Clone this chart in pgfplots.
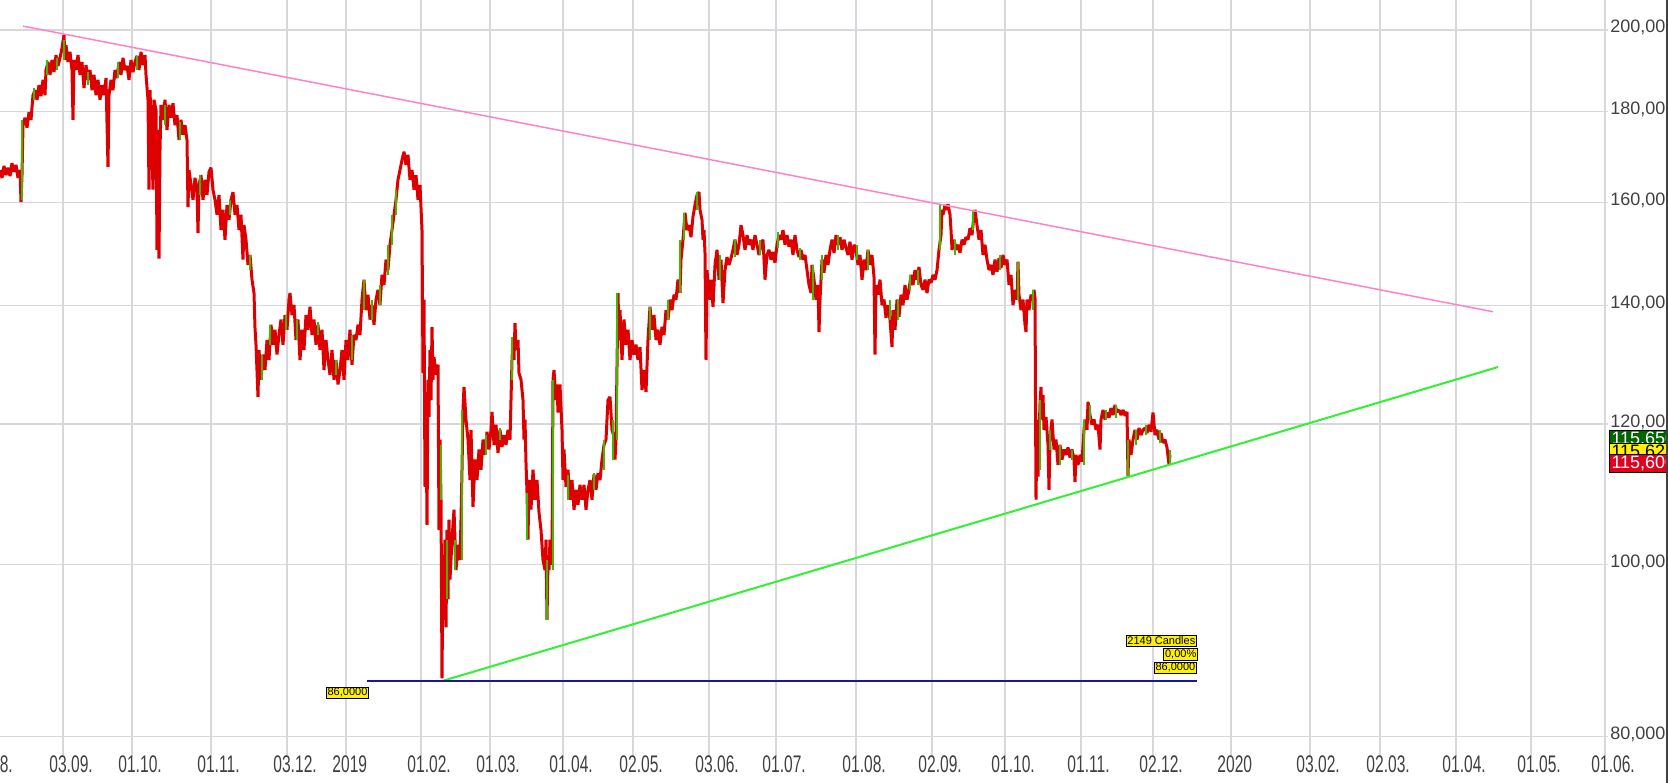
\documentclass[border=0pt]{standalone}
\usepackage{pgfplots}
\pgfplotsset{compat=1.18}
\usepackage{fontspec}
\setmainfont{Liberation Sans}
\newfontfamily\narrowfont{Liberation Sans}[FakeStretch=0.65]
\definecolor{gridc}{RGB}{216,216,220}
\definecolor{txt}{RGB}{64,64,64}
\definecolor{cred}{RGB}{222,0,0}
\definecolor{cgreen}{RGB}{60,185,0}
\definecolor{pinkl}{RGB}{255,130,200}
\definecolor{greenl}{RGB}{50,240,50}
\definecolor{bluel}{RGB}{25,25,150}
\definecolor{boxgreen}{RGB}{0,100,0}
\definecolor{boxred}{RGB}{225,0,30}
\begin{document}
\begin{tikzpicture}
\begin{axis}[
  at={(0,13bp)}, anchor=south west,
  scale only axis, width=804bp, height=378.5bp,
  xmin=0, xmax=1608,
  ymode=log, ymin=77.953, ymax=207.928,
  axis line style={draw=none},
  major tick length=0pt,
  grid=major, grid style={gridc, line width=0.55bp},
  xtick={63,132,211,287,346,421,490,563,633,709,776,856,932,1005,1081,1153,1231,1310,1380,1456,1531,1605},
  xticklabels={03.09.,01.10.,01.11.,03.12.,2019,01.02.,01.03.,01.04.,02.05.,03.06.,01.07.,01.08.,02.09.,01.10.,01.11.,02.12.,2020,03.02.,02.03.,01.04.,01.05.,01.06.},
  xticklabel style={font=\narrowfont\fontsize{12bp}{12bp}\selectfont, text=txt, anchor=north west, inner sep=0pt, xshift=-7bp, yshift=1bp},
  ytick={80,100,120,140,160,180,200},
  yticklabels={{80,000},{100,000},{120,000},{140,000},{160,000},{180,000},{200,000}},
  yticklabel pos=right,
  yticklabel style={font=\fontsize{9bp}{9bp}\selectfont, text=txt, anchor=base west, inner sep=0pt, xshift=1bp, yshift=-1.5bp},
  clip=false,
]
\addplot[cred, line width=1.5bp, line join=bevel] table[row sep=\\] {
x y\\
0 166.8\\ 2 165.1\\ 4 167.7\\ 6 165.7\\ 8 167.3\\ 10 165.5\\ 12 168.3\\ 14 166.4\\ 16 167.9\\ 18 165.1\\ 20 166.8\\ 21 160.0\\ 22 165.7\\ 23 176.8\\ 25 178.5\\ 27 176.2\\ 29 179.8\\ 31 178.0\\ 33 183.8\\ 35 185.0\\ 37 182.7\\ 39 186.2\\ 41 183.6\\ 43 187.5\\ 45 183.8\\ 46 189.9\\ 48 191.9\\ 50 188.7\\ 52 192.4\\ 54 189.4\\ 56 193.6\\ 58 190.9\\ 60 192.9\\ 62 195.4\\ 64 198.7\\ 65 192.4\\ 66 196.1\\ 68 191.9\\ 70 194.4\\ 72 189.9\\ 73 178.0\\ 74 192.4\\ 76 189.9\\ 78 193.6\\ 80 188.7\\ 82 191.9\\ 84 185.5\\ 86 191.1\\ 88 187.5\\ 90 189.9\\ 92 185.0\\ 94 188.7\\ 96 183.8\\ 98 187.5\\ 100 182.7\\ 102 186.2\\ 104 183.8\\ 106 187.9\\ 108 167.5\\ 109 183.8\\ 111 187.5\\ 113 185.0\\ 115 189.9\\ 117 187.9\\ 119 191.9\\ 121 188.7\\ 123 192.9\\ 125 189.9\\ 127 190.9\\ 129 187.5\\ 131 192.4\\ 133 189.4\\ 135 191.9\\ 137 193.4\\ 139 189.9\\ 141 194.4\\ 143 191.1\\ 145 193.6\\ 146 188.7\\ 148 182.7\\ 149 162.6\\ 150 185.0\\ 152 171.2\\ 153 162.6\\ 154 182.7\\ 156 180.3\\ 157 150.4\\ 158 175.7\\ 159 148.7\\ 160 171.2\\
161 181.5\\ 163 178.0\\ 165 182.7\\ 167 175.7\\ 169 181.5\\ 171 178.5\\ 173 181.9\\ 175 176.8\\ 177 179.1\\ 179 173.4\\ 181 178.0\\ 183 174.6\\ 185 176.8\\ 187 173.4\\ 188 159.0\\ 189 166.8\\ 191 163.6\\ 193 160.5\\ 195 165.1\\ 197 162.6\\ 198 153.7\\ 199 163.6\\ 201 165.7\\ 203 160.5\\ 205 164.7\\ 207 161.5\\ 209 166.4\\ 211 167.3\\ 213 162.6\\ 215 160.5\\ 217 157.4\\ 219 161.5\\ 221 154.3\\ 223 158.4\\ 225 152.4\\ 227 159.4\\ 229 156.4\\ 231 160.5\\ 233 162.1\\ 235 157.4\\ 237 159.4\\ 239 154.3\\ 241 157.4\\ 243 148.5\\ 244 155.3\\ 246 152.4\\ 248 147.5\\ 250 149.4\\ 252 144.7\\ 254 142.2\\ 255 135.9\\ 256 133.0\\ 258 124.3\\ 259 132.1\\ 261 127.1\\ 263 131.3\\ 265 128.7\\ 267 133.8\\ 269 130.4\\ 271 136.5\\ 273 133.0\\ 275 135.6\\ 277 131.3\\ 279 134.7\\ 281 137.4\\ 283 133.0\\ 285 138.2\\ 287 135.6\\ 289 141.0\\ 290 142.2\\ 292 138.2\\ 294 140.0\\ 296 133.8\\ 298 137.4\\ 300 130.4\\ 302 135.6\\ 304 132.1\\ 306 138.2\\ 308 135.6\\ 310 139.7\\ 312 134.7\\ 314 137.4\\ 316 133.0\\ 318 136.5\\ 320 132.1\\ 322 135.6\\ 324 128.7\\ 326 133.8\\ 328 130.4\\ 330 127.9\\ 332 132.1\\ 334 127.1\\ 336 130.4\\ 338 126.3\\ 340 128.7\\ 342 132.1\\ 344 127.1\\ 346 133.8\\ 348 130.4\\ 350 135.6\\ 352 129.6\\ 354 134.7\\ 356 133.8\\ 358 136.5\\ 360 134.7\\ 362 141.0\\ 364 144.7\\ 366 139.1\\ 368 141.9\\ 370 137.4\\ 372 140.0\\ 374 136.5\\ 376 141.0\\ 378 142.8\\ 380 140.0\\ 382 145.6\\ 384 143.7\\ 386 148.5\\ 388 146.5\\ 390 151.4\\ 392 154.3\\ 394 157.4\\ 396 160.5\\ 398 164.7\\ 400 166.8\\ 402 169.0\\ 404 170.8\\ 406 167.9\\ 408 170.1\\ 410 164.7\\ 412 166.8\\ 414 162.6\\ 416 165.7\\ 418 160.5\\ 420 163.6\\ 422 154.3\\
423 128.2\\ 424 141.0\\ 425 110.6\\ 426 123.8\\ 427 105.3\\ 428 127.1\\ 429 121.1\\ 430 132.1\\ 431 123.8\\ 432 136.1\\ 433 127.1\\ 434 130.9\\ 436 127.9\\ 438 129.6\\ 439 104.6\\ 440 117.6\\ 441 108.8\\ 442 86.3\\ 443 100.6\\ 444 95.6\\ 445 103.3\\ 446 92.2\\ 447 104.6\\ 448 95.6\\ 449 106.0\\ 450 98.1\\ 452 103.3\\ 454 107.4\\ 456 99.3\\ 458 102.6\\ 460 100.6\\ 461 106.0\\ 462 113.1\\ 463 122.2\\ 464 125.9\\ 466 120.7\\ 468 117.6\\ 470 111.6\\ 471 119.1\\ 473 107.8\\ 475 114.6\\ 477 111.6\\ 479 116.1\\ 481 113.1\\ 483 117.6\\ 485 115.3\\ 487 118.8\\ 489 116.1\\ 491 119.1\\ 492 121.9\\ 494 116.8\\ 496 119.9\\ 498 115.6\\ 500 119.1\\ 502 116.5\\ 504 118.3\\ 506 116.8\\ 508 119.1\\ 510 117.6\\ 511 123.8\\ 512 130.4\\ 513 134.3\\ 514 130.4\\ 515 136.8\\ 516 132.1\\ 518 133.8\\ 519 128.2\\ 521 127.1\\ 523 123.8\\ 524 117.6\\ 525 120.7\\ 526 114.1\\ 527 109.8\\ 528 103.3\\ 529 111.6\\ 531 107.4\\ 533 113.1\\ 535 108.8\\ 537 111.6\\ 539 107.0\\ 541 104.6\\ 543 100.6\\ 545 99.3\\ 546 103.3\\ 547 93.1\\ 548 100.6\\ 549 99.3\\ 550 103.3\\ 552 100.0\\ 553 127.1\\ 554 128.7\\ 556 123.8\\ 557 126.3\\ 558 121.8\\ 560 126.3\\ 562 119.1\\ 563 111.6\\ 564 116.1\\ 566 110.6\\ 568 113.1\\ 570 108.8\\ 572 111.6\\ 574 107.4\\ 576 110.2\\ 578 108.1\\ 580 110.9\\ 582 108.8\\ 584 110.9\\ 586 107.4\\ 588 110.2\\ 590 111.6\\ 592 108.8\\ 594 112.4\\ 596 110.2\\ 598 112.6\\ 600 111.6\\ 602 114.6\\ 604 116.8\\ 606 117.6\\ 607 120.7\\ 608 123.8\\ 610 124.3\\ 612 119.1\\ 614 118.0\\ 615 114.6\\ 616 117.6\\ 618 142.2\\ 619 133.8\\ 620 139.1\\ 622 130.4\\ 624 137.4\\ 626 133.0\\ 628 135.6\\ 630 130.4\\ 632 133.8\\ 634 131.3\\ 636 133.0\\ 638 130.4\\ 640 132.6\\ 642 125.4\\ 644 128.7\\ 646 125.1\\ 648 133.8\\ 650 139.7\\ 652 135.6\\ 654 138.2\\ 656 133.8\\ 658 135.6\\ 660 133.0\\ 662 136.1\\ 664 134.7\\ 666 139.1\\ 668 137.4\\ 670 141.0\\ 672 139.1\\ 674 141.9\\ 676 141.0\\ 678 144.7\\ 680 142.2\\
681 148.5\\ 683 152.4\\ 685 157.8\\ 687 154.3\\ 689 155.3\\ 691 152.9\\ 693 157.0\\ 695 159.4\\ 697 161.5\\ 699 162.1\\ 700 158.4\\ 702 156.4\\ 703 152.4\\ 704 154.3\\ 705 149.8\\ 706 130.4\\ 707 146.5\\ 709 141.0\\ 711 144.7\\ 713 139.7\\ 715 147.5\\ 717 150.4\\ 719 144.7\\ 721 148.5\\ 723 140.4\\ 725 146.5\\ 727 149.0\\ 729 147.5\\ 731 148.8\\ 733 150.4\\ 735 152.4\\ 737 149.4\\ 739 151.4\\ 741 155.3\\ 743 153.3\\ 745 150.4\\ 747 153.3\\ 749 151.4\\ 751 152.4\\ 753 150.4\\ 755 153.3\\ 757 151.4\\ 759 149.4\\ 761 151.4\\ 763 152.4\\ 765 144.7\\ 767 149.4\\ 769 150.4\\ 771 148.5\\ 773 150.0\\ 775 147.9\\ 777 151.4\\ 779 153.3\\ 781 152.4\\ 783 154.3\\ 785 151.4\\ 787 153.3\\ 789 151.0\\ 791 152.4\\ 793 149.4\\ 795 153.3\\ 797 150.4\\ 799 149.0\\ 801 150.4\\ 803 148.5\\ 805 149.4\\ 807 146.5\\ 809 143.7\\ 811 142.2\\ 812 147.5\\ 814 144.7\\ 816 141.0\\ 818 143.7\\ 819 135.2\\ 820 141.0\\ 822 148.5\\ 824 146.0\\ 826 149.4\\ 828 147.5\\ 830 150.4\\ 832 152.4\\ 834 149.8\\ 836 153.3\\ 838 151.4\\ 840 152.9\\ 842 150.4\\ 844 152.4\\ 846 150.8\\ 848 149.4\\ 850 152.0\\ 852 148.5\\ 854 151.4\\ 856 150.4\\ 858 147.5\\ 860 149.4\\ 862 144.7\\ 864 148.5\\ 866 146.5\\ 868 150.4\\ 870 147.5\\ 872 149.4\\ 874 145.2\\ 875 131.3\\ 876 143.7\\ 878 141.9\\ 880 144.7\\ 882 140.0\\ 884 141.0\\ 886 137.7\\ 888 140.0\\ 890 137.4\\ 892 132.6\\ 893 139.1\\ 895 135.6\\ 897 141.0\\ 899 137.9\\ 901 141.9\\ 903 140.0\\ 905 143.7\\ 907 141.0\\ 909 142.8\\ 911 145.6\\ 913 143.7\\ 915 146.5\\ 917 144.7\\ 919 147.1\\ 921 143.7\\ 923 142.8\\ 925 144.7\\ 927 142.2\\ 929 144.7\\ 931 144.1\\ 933 145.6\\ 935 144.7\\ 937 146.5\\ 939 150.4\\ 941 153.3\\ 942 158.4\\ 943 157.4\\ 945 159.4\\ 947 158.4\\ 948 159.6\\ 950 157.4\\ 951 154.3\\ 952 150.4\\ 954 152.4\\ 956 150.4\\ 958 151.4\\ 960 149.8\\ 962 152.4\\ 964 151.4\\ 966 152.9\\ 968 152.4\\ 970 154.7\\ 972 153.3\\ 974 157.4\\ 975 158.4\\ 977 155.3\\ 979 152.4\\ 981 154.3\\ 983 149.4\\ 985 151.4\\ 987 148.5\\ 989 146.5\\ 991 147.5\\ 993 145.6\\ 995 148.5\\ 997 146.2\\ 999 148.8\\ 1001 146.9\\ 1003 149.4\\ 1005 147.5\\ 1007 148.5\\ 1009 143.7\\ 1011 145.6\\ 1013 140.0\\ 1015 142.8\\ 1017 141.0\\ 1018 148.1\\ 1019 141.9\\ 1021 139.1\\ 1023 141.0\\ 1025 136.5\\ 1026 135.2\\ 1027 141.0\\ 1029 139.1\\ 1031 141.9\\ 1033 141.0\\ 1034 142.8\\ 1035 141.3\\
1036 108.8\\ 1037 120.7\\ 1038 112.1\\ 1039 117.6\\ 1040 123.3\\ 1041 125.9\\ 1042 120.7\\ 1043 124.6\\ 1044 119.1\\ 1046 121.1\\ 1048 116.8\\ 1049 110.2\\ 1050 117.6\\ 1052 120.7\\ 1054 116.1\\ 1056 117.6\\ 1058 113.8\\ 1060 116.8\\ 1062 114.6\\ 1064 116.1\\ 1066 115.3\\ 1068 116.4\\ 1070 114.9\\ 1072 116.1\\ 1074 114.6\\ 1075 111.3\\ 1076 115.3\\ 1078 113.8\\ 1080 115.3\\ 1082 114.3\\ 1084 119.1\\ 1085 120.7\\ 1087 119.1\\ 1088 123.5\\ 1090 121.4\\ 1092 119.9\\ 1094 120.7\\ 1096 119.1\\ 1098 119.9\\ 1100 116.1\\ 1101 120.7\\ 1103 122.2\\ 1105 120.7\\ 1107 121.8\\ 1109 121.0\\ 1111 122.5\\ 1113 121.4\\ 1115 123.0\\ 1117 121.9\\ 1119 122.2\\ 1121 121.4\\ 1123 122.2\\ 1125 121.3\\ 1127 121.9\\ 1128 112.1\\ 1129 117.6\\ 1131 115.3\\ 1133 117.6\\ 1135 119.1\\ 1137 117.6\\ 1139 119.4\\ 1141 118.3\\ 1143 119.1\\ 1145 119.4\\ 1147 118.6\\ 1149 119.9\\ 1151 118.8\\ 1153 121.8\\ 1155 118.3\\ 1157 119.1\\ 1159 117.6\\ 1161 118.6\\ 1163 117.1\\ 1165 117.6\\ 1167 116.4\\ 1169 113.8\\ 1170 115.3\\
};
\addplot[cgreen, line width=1.3bp, unbounded coords=jump] table[row sep=\\] {
x y\\
22 160.5\\ 22 178.0\\ 22 nan\\ 34 182.7\\ 34 185.5\\ 34 nan\\ 47 188.7\\ 47 192.4\\ 47 nan\\ 57 189.9\\ 57 192.9\\ 57 nan\\ 64 192.4\\ 64 197.4\\ 64 nan\\ 88 186.2\\ 88 189.4\\ 88 nan\\ 118 187.9\\ 118 191.9\\ 118 nan\\ 137 189.9\\ 137 193.4\\ 137 nan\\ 165 176.8\\ 165 181.5\\ 165 nan\\ 180 173.4\\ 180 177.5\\ 180 nan\\ 200 161.5\\ 200 165.7\\ 200 nan\\ 230 157.4\\ 230 160.5\\ 230 nan\\ 250 146.5\\ 250 149.4\\ 250 nan\\ 262 127.1\\ 262 131.3\\ 262 nan\\ 270 133.0\\ 270 136.5\\ 270 nan\\ 286 135.6\\ 286 138.2\\ 286 nan\\ 297 133.8\\ 297 137.4\\ 297 nan\\ 318 134.7\\ 318 137.0\\ 318 nan\\ 336 127.9\\ 336 130.4\\ 336 nan\\ 352 130.4\\ 352 134.7\\ 352 nan\\ 364 139.1\\ 364 144.7\\ 364 nan\\ 372 137.4\\ 372 141.0\\ 372 nan\\ 380 140.0\\ 380 143.7\\ 380 nan\\ 388 145.6\\ 388 151.4\\ 388 nan\\ 392 151.4\\ 392 157.4\\ 392 nan\\ 396 157.4\\ 396 162.6\\ 396 nan\\
441 108.8\\ 441 116.8\\ 441 nan\\ 447 95.6\\ 447 103.3\\ 447 nan\\ 455 99.3\\ 455 103.3\\ 455 nan\\ 462 100.6\\ 462 122.2\\ 462 nan\\ 486 115.3\\ 486 118.3\\ 486 nan\\ 500 117.6\\ 500 119.4\\ 500 nan\\ 512 127.1\\ 512 134.3\\ 512 nan\\ 527 103.3\\ 527 109.8\\ 527 nan\\ 547 93.1\\ 547 100.6\\ 547 nan\\ 553 99.3\\ 553 127.1\\ 553 nan\\ 568 108.8\\ 568 112.4\\ 568 nan\\ 594 110.2\\ 594 112.6\\ 594 nan\\ 604 113.1\\ 604 117.6\\ 604 nan\\ 613 114.6\\ 613 120.7\\ 613 nan\\ 617 117.6\\ 617 142.2\\ 617 nan\\ 650 133.8\\ 650 139.7\\ 650 nan\\ 668 137.4\\ 668 141.0\\ 668 nan\\ 680 142.2\\ 680 152.4\\ 680 nan\\ 684 152.4\\ 684 157.8\\ 684 nan\\ 697 158.4\\ 697 162.1\\ 697 nan\\ 720 144.7\\ 720 149.4\\ 720 nan\\ 735 149.0\\ 735 152.4\\ 735 nan\\ 760 149.4\\ 760 152.4\\ 760 nan\\ 778 150.8\\ 778 153.9\\ 778 nan\\ 800 148.5\\ 800 150.8\\ 800 nan\\ 813 141.0\\ 813 147.5\\ 813 nan\\ 822 144.7\\ 822 149.4\\ 822 nan\\ 838 150.4\\ 838 153.3\\ 838 nan\\ 857 148.5\\ 857 151.4\\ 857 nan\\ 868 146.5\\ 868 150.4\\ 868 nan\\ 890 137.4\\ 890 141.0\\ 890 nan\\ 898 137.4\\ 898 141.0\\ 898 nan\\ 910 142.8\\ 910 145.6\\ 910 nan\\ 918 143.7\\ 918 146.5\\ 918 nan\\ 940 150.4\\ 940 159.4\\ 940 nan\\ 955 149.4\\ 955 152.4\\ 955 nan\\ 973 154.3\\ 973 158.4\\ 973 nan\\ 1000 146.5\\ 1000 149.4\\ 1000 nan\\ 1018 141.0\\ 1018 148.1\\ 1018 nan\\ 1033 139.1\\ 1033 142.8\\ 1033 nan\\ 1040 113.1\\ 1040 123.8\\ 1040 nan\\ 1050 116.1\\ 1050 119.1\\ 1050 nan\\ 1060 113.8\\ 1060 116.8\\ 1060 nan\\ 1072 114.6\\ 1072 116.1\\ 1072 nan\\ 1084 113.8\\ 1084 120.7\\ 1084 nan\\ 1090 120.7\\ 1090 123.0\\ 1090 nan\\ 1106 120.7\\ 1106 122.2\\ 1106 nan\\ 1116 121.0\\ 1116 123.0\\ 1116 nan\\ 1128 112.1\\ 1128 117.6\\ 1128 nan\\ 1136 116.8\\ 1136 119.1\\ 1136 nan\\ 1146 118.3\\ 1146 119.9\\ 1146 nan\\ 1160 117.1\\ 1160 119.1\\ 1160 nan\\ 1170 113.8\\ 1170 116.1\\
};
\addplot[pinkl, line width=0.75bp] coordinates {(23,201.0) (1493,138.8)};
\addplot[greenl, line width=1bp] coordinates {(442,86.0) (1498,129.2)};
\addplot[bluel, line width=0.6bp] coordinates {(367,86.0) (1197,86.0)};
\node[fill=yellow, draw=black, line width=0.5bp, inner sep=0.6bp, font=\fontsize{5.5bp}{6bp}\selectfont] at (axis cs:347.5,84.7) {86,0000};
\node[fill=yellow, draw=black, line width=0.5bp, inner sep=0.6bp, anchor=east, font=\fontsize{5.5bp}{6bp}\selectfont] at (axis cs:1197,90.6) {2149 Candles};
\node[fill=yellow, draw=black, line width=0.5bp, inner sep=0.6bp, anchor=east, font=\fontsize{5.5bp}{6bp}\selectfont] at (axis cs:1198,89.0) {0,00\%};
\node[fill=yellow, draw=black, line width=0.5bp, inner sep=0.6bp, anchor=east, font=\fontsize{5.5bp}{6bp}\selectfont] at (axis cs:1197,87.5) {86,0000};
\node[anchor=north west, inner sep=0pt, text=txt, yshift=1bp, font=\narrowfont\fontsize{12bp}{12bp}\selectfont] at (axis cs:-31,77.953) {01.08.};
\node[fill=boxgreen, draw=black, line width=0.5bp, text=white, anchor=north west, minimum height=9bp, text width=40bp, align=left, inner sep=1bp, font=\fontsize{9bp}{9bp}\selectfont] at (axis cs:1609,119.1) {115,650};
\node[fill=yellow, draw=black, line width=0.5bp, text=black, anchor=north west, minimum height=9bp, text width=40bp, align=left, inner sep=1bp, font=\fontsize{9bp}{9bp}\selectfont] at (axis cs:1609,117.1) {115,625};
\node[fill=boxred, draw=black, line width=0.5bp, text=white, anchor=north west, minimum height=9bp, text width=40bp, align=left, inner sep=1bp, font=\fontsize{9bp}{9bp}\selectfont] at (axis cs:1609,115.5) {115,600};
\end{axis}
\draw[black!75, line width=1bp] (833.5bp,0) -- (833.5bp,391.5bp);
\pgfresetboundingbox
\useasboundingbox (0,0) rectangle (834bp,391.5bp);
\end{tikzpicture}
\end{document}
